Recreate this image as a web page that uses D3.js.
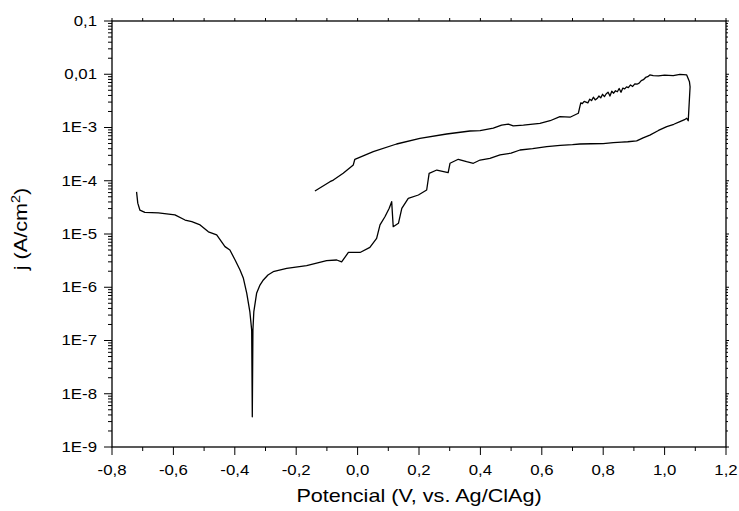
<!DOCTYPE html>
<html>
<head>
<meta charset="utf-8">
<script src="https://cdn.jsdelivr.net/npm/d3@7"></script>
<style>
  body { margin: 0; background: #fff; }
  text { font-family: "Liberation Sans", Arial, sans-serif; fill: #000; }
</style>
</head>
<body>
<div id="chart"></div>
<script>
// Potencial (V) and current density j (A/cm2), in scan order
const potencial = [
  -0.720, -0.716, -0.709, -0.693, -0.649, -0.595, -0.562, -0.540, -0.513, -0.486,
  -0.459, -0.432, -0.416, -0.399, -0.383, -0.372, -0.361, -0.351, -0.345, -0.343,
  -0.341, -0.338, -0.329, -0.318, -0.307, -0.292, -0.275, -0.231, -0.166, -0.101,
  -0.068, -0.052, -0.030, 0.008, 0.040, 0.062, 0.073, 0.089, 0.103, 0.111,
  0.116, 0.133, 0.144, 0.165, 0.198, 0.225, 0.233, 0.258, 0.295, 0.301,
  0.328, 0.355, 0.377, 0.399, 0.431, 0.464, 0.500, 0.529, 0.570, 0.616,
  0.660, 0.700, 0.724, 0.760, 0.800, 0.833, 0.860, 0.880, 0.909, 0.930,
  0.952, 0.980, 1.007, 1.030, 1.050, 1.065, 1.072, 1.077, 1.083, 1.081,
  1.072, 1.050, 1.028, 1.000, 0.980, 0.963, 0.952,
  0.945, 0.938, 0.931, 0.924, 0.917, 0.910, 0.903, 0.896, 0.889, 0.882,
  0.876, 0.870, 0.864, 0.858, 0.852, 0.846, 0.840, 0.834, 0.828, 0.822,
  0.816, 0.810, 0.804, 0.798, 0.792, 0.786, 0.780, 0.774, 0.768, 0.762,
  0.756, 0.750, 0.744, 0.738, 0.732, 0.727, 0.724, 0.719, 0.692, 0.659,
  0.627, 0.594, 0.540, 0.507, 0.491, 0.469, 0.442, 0.399, 0.366, 0.290,
  0.203, 0.127, 0.051, -0.009, -0.014, -0.047, -0.079, -0.090, -0.139
];
const densidad = [
  6.2e-5, 3.8e-5, 2.8e-5, 2.55e-5, 2.5e-5, 2.28e-5, 1.83e-5, 1.7e-5, 1.48e-5, 1.1e-5,
  9.6e-6, 5.8e-6, 5.0e-6, 3.25e-6, 2.11e-6, 1.47e-6, 7.7e-7, 3.5e-7, 1.57e-7, 3.7e-9,
  1.57e-7, 3.5e-7, 7.7e-7, 1.1e-6, 1.37e-6, 1.7e-6, 1.96e-6, 2.27e-6, 2.54e-6, 3.15e-6,
  3.25e-6, 3.0e-6, 4.5e-6, 4.5e-6, 5.6e-6, 8.3e-6, 1.48e-5, 2.11e-5, 3.04e-5, 4.05e-5,
  1.37e-5, 1.59e-5, 3.04e-5, 4.68e-5, 5.4e-5, 6.7e-5, 1.38e-4, 1.59e-4, 1.42e-4, 2.13e-4,
  2.53e-4, 2.28e-4, 2.13e-4, 2.45e-4, 2.64e-4, 3.05e-4, 3.3e-4, 3.78e-4, 4.0e-4, 4.36e-4,
  4.6e-4, 4.75e-4, 4.9e-4, 4.95e-4, 5.0e-4, 5.19e-4, 5.3e-4, 5.4e-4, 5.6e-4, 6.4e-4,
  7.2e-4, 8.8e-4, 1.04e-3, 1.15e-3, 1.29e-3, 1.4e-3, 1.49e-3, 1.34e-3, 5.8e-3, 7.2e-3,
  9.7e-3, 9.97e-3, 9.4e-3, 9.6e-3, 9.3e-3, 9.4e-3, 9.7e-3,
  9.0e-3, 8.7e-3, 7.9e-3, 7.6e-3, 6.8e-3, 6.5e-3, 6.6e-3, 5.9e-3, 6.3e-3, 5.6e-3,
  5.8e-3, 5.3e-3, 5.5e-3, 4.6e-3, 5.4e-3, 4.7e-3, 4.9e-3, 4.4e-3, 4.8e-3, 3.9e-3,
  4.6e-3, 4.3e-3, 3.8e-3, 4.2e-3, 3.6e-3, 3.9e-3, 3.5e-3, 3.3e-3, 3.7e-3, 3.2e-3,
  3.4e-3, 2.9e-3, 3.0e-3, 3.1e-3, 2.8e-3, 2.9e-3, 2.46e-3, 1.85e-3, 1.56e-3, 1.6e-3,
  1.34e-3, 1.2e-3, 1.11e-3, 1.07e-3, 1.16e-3, 1.11e-3, 9.7e-4, 8.7e-4, 8.6e-4, 7.55e-4,
  6.27e-4, 4.9e-4, 3.52e-4, 2.53e-4, 1.98e-4, 1.38e-4, 1.03e-4, 9.6e-5, 6.4e-5
];

const xTicks = [-0.8, -0.6, -0.4, -0.2, 0.0, 0.2, 0.4, 0.6, 0.8, 1.0, 1.2];
const yTicks = [1e-9, 1e-8, 1e-7, 1e-6, 1e-5, 1e-4, 1e-3, 1e-2, 1e-1];
const yTickLabels = ["1E-9", "1E-8", "1E-7", "1E-6", "1E-5", "1E-4", "1E-3", "0,01", "0,1"];

const width = 739, height = 511;
const mLeft = 112, mRight = 726, mTop = 21, mBottom = 447;
const stretch = 1.2; // the original lettering is a bit wide

const svg = d3.select("#chart").append("svg")
  .attr("width", width)
  .attr("height", height);

const x = d3.scaleLinear().domain([-0.8, 1.2]).range([mLeft, mRight]);
const y = d3.scaleLog().domain([1e-9, 0.1]).range([mBottom, mTop]);

// minor positions
const xMinor = d3.range(-0.7, 1.2, 0.2);
const yMinor = [];
yTicks.slice(0, -1).forEach(t => {
  for (let k = 2; k <= 9; k++) yMinor.push(t * k);
});

const axisG = svg.append("g").attr("stroke", "#000").attr("stroke-width", 1);

// frame
axisG.append("rect")
  .attr("x", mLeft).attr("y", mTop)
  .attr("width", mRight - mLeft).attr("height", mBottom - mTop)
  .attr("fill", "none")
  .attr("stroke-width", 1.3);

// bottom ticks
axisG.selectAll(".xMaj").data(xTicks).enter().append("line")
  .attr("x1", d => x(d)).attr("x2", d => x(d))
  .attr("y1", mBottom).attr("y2", mBottom + 8);
axisG.selectAll(".xMin").data(xMinor).enter().append("line")
  .attr("x1", d => x(d)).attr("x2", d => x(d))
  .attr("y1", mBottom).attr("y2", mBottom + 4);

// top ticks (short)
axisG.selectAll(".xTop").data(xTicks.concat(xMinor)).enter().append("line")
  .attr("x1", d => x(d)).attr("x2", d => x(d))
  .attr("y1", mTop).attr("y2", mTop - 3);

// left ticks
axisG.selectAll(".yMaj").data(yTicks).enter().append("line")
  .attr("x1", mLeft - 8).attr("x2", mLeft)
  .attr("y1", d => y(d)).attr("y2", d => y(d));
axisG.selectAll(".yMin").data(yMinor).enter().append("line")
  .attr("x1", mLeft - 4).attr("x2", mLeft)
  .attr("y1", d => y(d)).attr("y2", d => y(d));

// right ticks (short)
axisG.selectAll(".yR").data(yTicks).enter().append("line")
  .attr("x1", mRight).attr("x2", mRight + 3)
  .attr("y1", d => y(d)).attr("y2", d => y(d));
axisG.selectAll(".yRm").data(yMinor).enter().append("line")
  .attr("x1", mRight).attr("x2", mRight + 2)
  .attr("y1", d => y(d)).attr("y2", d => y(d));

// tick labels
svg.selectAll(".xLab").data(xTicks).enter().append("text")
  .attr("transform", d => `translate(${x(d)}, ${mBottom + 28}) scale(${stretch}, 1)`)
  .attr("text-anchor", "middle")
  .style("font-size", "14px")
  .text(d => d3.format(".1f")(d).replace(".", ",").replace("−", "-"));

svg.selectAll(".yLab").data(yTicks).enter().append("text")
  .attr("transform", d => `translate(${mLeft - 15}, ${y(d)}) scale(${stretch}, 1)`)
  .attr("dy", "0.35em")
  .attr("text-anchor", "end")
  .style("font-size", "14px")
  .text((d, i) => yTickLabels[i]);

// axis titles
svg.append("text")
  .attr("transform", `translate(${(mLeft + mRight) / 2}, 502) scale(${stretch}, 1)`)
  .attr("text-anchor", "middle")
  .style("font-size", "18px")
  .text("Potencial (V, vs. Ag/ClAg)");

const yt = svg.append("text")
  .attr("transform", `translate(27, 229) rotate(-90) scale(${stretch}, 1)`)
  .attr("text-anchor", "middle")
  .style("font-size", "18px");
yt.append("tspan").text("j (A/cm");
yt.append("tspan").attr("dy", "-7").style("font-size", "12px").text("2");
yt.append("tspan").attr("dy", "7").text(")");

// curve
const pts = potencial.map((v, i) => [v, densidad[i]]);
const line = d3.line()
  .x(d => x(d[0]))
  .y(d => y(d[1]));

svg.append("path")
  .datum(pts)
  .attr("d", line)
  .attr("fill", "none")
  .attr("stroke", "#000")
  .attr("stroke-width", 1.3)
  .attr("stroke-linejoin", "round");
</script>
</body>
</html>
